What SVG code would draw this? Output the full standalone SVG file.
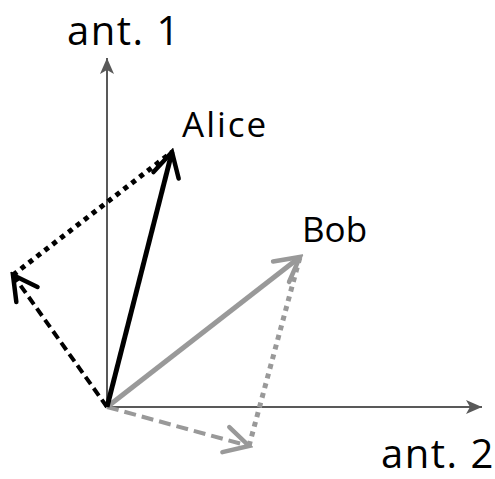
<svg xmlns="http://www.w3.org/2000/svg" width="495" height="479" viewBox="0 0 495 479">
<style>
.axis{stroke:#595959;stroke-width:2;fill:none}
.lbl{font-family:"Open Sans","Liberation Sans",sans-serif;fill:#000}
.blk{stroke:#000;fill:none}
.gry{stroke:#999;fill:none}
</style>
<defs>
<marker id="axhead" markerUnits="userSpaceOnUse" markerWidth="20" markerHeight="20" viewBox="-18 -10 20 20" refX="0" refY="0" orient="auto">
<path d="M0,0 L-16,-7 L-12,0 L-16,7 Z" fill="#595959"/>
</marker>
<marker id="chevK" markerUnits="userSpaceOnUse" markerWidth="34" markerHeight="34" viewBox="-30 -17 34 34" refX="0" refY="0" orient="auto">
<path d="M-24,-13 L0,0 L-24,13" fill="none" stroke="#000" stroke-width="4.5" stroke-linecap="round" stroke-linejoin="miter"/>
</marker>
<marker id="chevG" markerUnits="userSpaceOnUse" markerWidth="34" markerHeight="34" viewBox="-30 -17 34 34" refX="0" refY="0" orient="auto">
<path d="M-24,-13 L0,0 L-24,13" fill="none" stroke="#999" stroke-width="4.5" stroke-linecap="round" stroke-linejoin="miter"/>
</marker>
</defs>
<g id="axes">
<line class="axis" x1="107" y1="407" x2="107" y2="58" marker-end="url(#axhead)"/>
<line class="axis" x1="107" y1="407" x2="482" y2="407" marker-end="url(#axhead)"/>
</g>
<g id="connectors">
<line class="blk" x1="13" y1="275" x2="172" y2="152" stroke-width="5" stroke-dasharray="5 5"/>
<line class="blk" x1="107" y1="407" x2="13" y2="275" stroke-width="4" stroke-dasharray="9 5" marker-end="url(#chevK)"/>
<line class="gry" x1="249" y1="446" x2="300" y2="257" stroke-width="5" stroke-dasharray="5 5"/>
<line class="gry" x1="107" y1="407" x2="249" y2="446" stroke-width="4" stroke-dasharray="12 6" marker-end="url(#chevG)"/>
<line class="gry" x1="107" y1="407" x2="300" y2="257" stroke-width="5" marker-end="url(#chevG)"/>
<line class="blk" x1="107" y1="407" x2="172" y2="152" stroke-width="5" marker-end="url(#chevK)"/>
</g>
<g id="ant1"><text class="lbl" x="67" y="45" font-size="40" letter-spacing="1.5">ant. 1</text></g>
<g id="alice"><text class="lbl" x="182" y="137" font-size="35" letter-spacing="2">Alice</text></g>
<g id="bob"><text class="lbl" x="302" y="242" font-size="35">Bob</text></g>
<g id="ant2"><text class="lbl" x="381" y="468" font-size="40" letter-spacing="1.5">ant. 2</text></g>
</svg>
